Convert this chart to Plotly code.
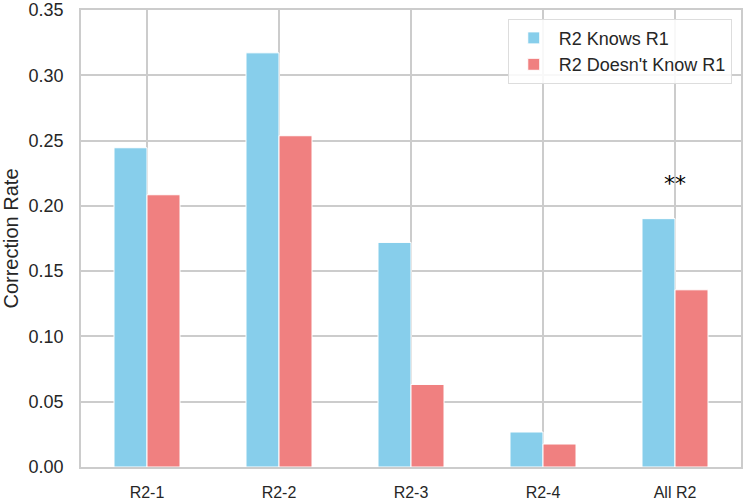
import plotly.graph_objects as go

categories = ["R2-1", "R2-2", "R2-3", "R2-4", "All R2"]
knows = [0.2445, 0.3172, 0.1720, 0.0268, 0.1902]
doesnt_know = [0.2085, 0.2537, 0.0632, 0.0176, 0.1357]
series_names = ["R2 Knows R1", "R2 Doesn't Know R1"]
y_ticks = [0.00, 0.05, 0.10, 0.15, 0.20, 0.25, 0.30, 0.35]
sig_label = "**"
sig_category = "All R2"
sig_y = 0.217

FONT = "Liberation Sans, Arial, sans-serif"
GRID = "#cccccc"

fig = go.Figure()
fig.add_trace(go.Bar(x=categories, y=knows, name=series_names[0],
                     marker=dict(color="#87CEEB", line=dict(color="white", width=1))))
fig.add_trace(go.Bar(x=categories, y=doesnt_know, name=series_names[1],
                     marker=dict(color="#F08080", line=dict(color="white", width=1))))

fig.add_annotation(x=sig_category, y=sig_y, text=sig_label, showarrow=False,
                   xref="x", yref="y", yanchor="middle",
                   font=dict(size=22, color="black", family="DejaVu Sans, sans-serif"))

fig.update_layout(
    width=744, height=504,
    margin=dict(l=81, r=3, t=10, b=37),
    paper_bgcolor="white", plot_bgcolor="white",
    barmode="group", bargap=0.5, bargroupgap=0,
    font=dict(family=FONT, size=16, color="#262626"),
    legend=dict(x=0.986, y=0.981, xanchor="right", yanchor="top",
                bgcolor="rgba(255,255,255,0.85)", bordercolor="#dddddd", borderwidth=1,
                font=dict(size=18, color="#262626"), itemwidth=40, tracegroupgap=2),
    xaxis=dict(range=[-0.5, 4.5], showgrid=True, gridcolor=GRID, gridwidth=1.5,
               showline=True, linecolor=GRID, linewidth=1.5, mirror=True,
               ticks="", ticklabelstandoff=10, ticklabeloverflow="allow",
               tickfont=dict(size=16), layer="below traces", automargin=False),
    yaxis=dict(range=[0, 0.35], tickvals=y_ticks, tickformat=".2f",
               showgrid=True, gridcolor=GRID, gridwidth=1.5, zeroline=False,
               showline=True, linecolor=GRID, linewidth=1.5, mirror=True,
               ticks="", ticklabelstandoff=12, ticklabeloverflow="allow",
               tickfont=dict(size=18), automargin=False,
               title=dict(text="Correction Rate", font=dict(size=20), standoff=10)),
)

fig.write_html("out.html")
